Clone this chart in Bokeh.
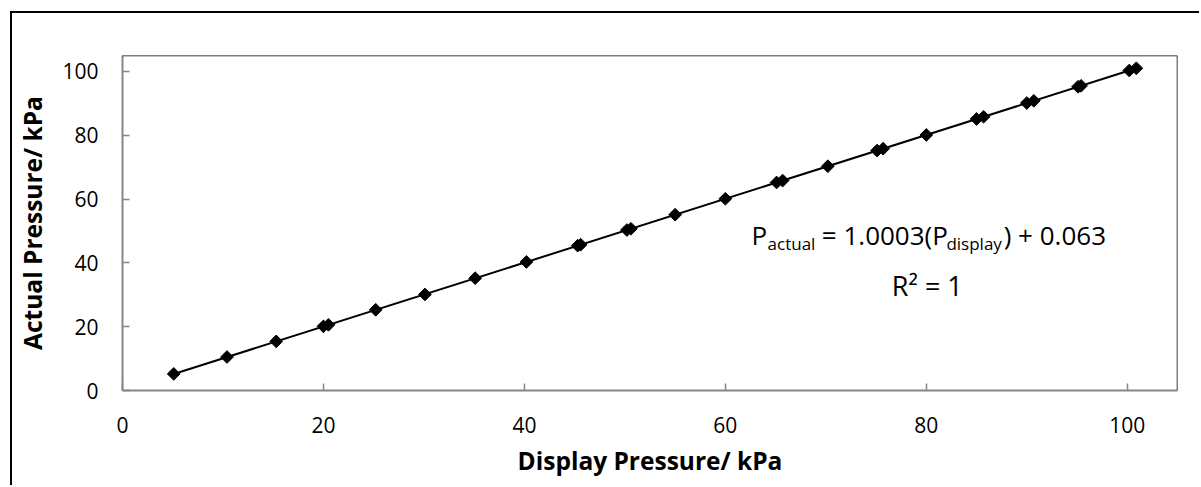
from math import pi

from bokeh.embed import file_html
from bokeh.models import FixedTicker, Label, Span
from bokeh.plotting import figure
from bokeh.resources import INLINE

# Calibration readings (kPa)
display_kpa = [5.1, 10.4, 15.3, 20.0, 20.5, 25.2, 30.1, 35.1, 40.2, 45.3, 45.6,
               50.2, 50.6, 55.0, 60.0, 65.1, 65.7, 70.2, 75.1, 75.7, 80.0, 85.0,
               85.7, 90.0, 90.7, 95.1, 95.4, 100.2, 100.9]
actual_kpa = [5.2, 10.5, 15.4, 20.1, 20.6, 25.3, 30.1, 35.2, 40.3, 45.4, 45.7,
              50.3, 50.7, 55.1, 60.1, 65.2, 65.8, 70.3, 75.2, 75.8, 80.1, 85.1,
              85.8, 90.1, 90.8, 95.2, 95.5, 100.3, 101.0]

# Linear fit reported on the chart
slope = 1.0003
intercept = 0.063

tick_values = [0, 20, 40, 60, 80, 100]
axis_max = 105

FONT = "Open Sans"
AXIS_GRAY = "#868686"

p = figure(
    width=1189, height=474,
    x_range=(0, axis_max), y_range=(0, axis_max),
    output_backend="svg", toolbar_location=None,
    min_border_left=110, min_border_right=24,
    min_border_top=42, min_border_bottom=97,
)
# Chart-area frame on the left and top, drawn as a shadow so it takes no room
p.styles = {
    "margin-left": "12px",
    "margin-top": "13px",
    "box-shadow": "-2px -2px 0 0 black",
}
p.outline_line_color = None
p.xgrid.visible = False
p.ygrid.visible = False

for ax in (p.xaxis[0], p.yaxis[0]):
    ax.ticker = FixedTicker(ticks=tick_values)
    ax.minor_tick_line_color = None
    ax.major_tick_in = 7
    ax.major_tick_out = 0
    ax.axis_line_color = AXIS_GRAY
    ax.axis_line_width = 2
    ax.major_tick_line_color = AXIS_GRAY
    ax.major_tick_line_width = 1.5
    ax.major_label_text_font = FONT
    ax.major_label_text_font_size = "21px"
    ax.major_label_text_color = "black"
    ax.axis_label_text_font = FONT
    ax.axis_label_text_font_size = "24.5px"
    ax.axis_label_text_font_style = "bold"
    ax.axis_label_text_color = "black"

p.xaxis.axis_label = "Display Pressure/ kPa"
p.yaxis.axis_label = "Actual Pressure/ kPa"
p.xaxis.major_label_standoff = 26
p.xaxis.axis_label_standoff = 8
p.yaxis.major_label_standoff = 24
p.yaxis.axis_label_standoff = 10

# Top and right edges of the plot area
p.add_layout(Span(location=axis_max, dimension="width", line_color="black", line_width=1.5))
p.add_layout(Span(location=axis_max, dimension="height", line_color="black", line_width=1.5))

# Trendline across the measured range
x_lo, x_hi = min(display_kpa), max(display_kpa)
p.line([x_lo, x_hi], [slope * x_lo + intercept, slope * x_hi + intercept],
       line_color="black", line_width=2)

p.scatter(display_kpa, actual_kpa, marker="square", angle=pi / 4, size=9,
          fill_color="black", line_color="black")

# Fit equation with subscripts
eq_y = 48.6
sub_y = 46.1
big = "26px"
small = "17px"
pieces = [
    (62.6, eq_y, "P", big),
    (64.2, sub_y, "actual", small),
    (69.6, eq_y, "= 1.0003(P", big),
    (82.0, sub_y, "display", small),
    (87.7, eq_y, ") + 0.063", big),
]
for x, y, t, fs in pieces:
    p.add_layout(Label(x=x, y=y, text=t, text_font=FONT, text_font_size=fs,
                       text_color="black", text_align="left",
                       text_baseline="alphabetic"))

p.add_layout(Label(x=80.1, y=32.9, text="R² = 1", text_font=FONT,
                   text_font_size="27px", text_color="black", text_align="center",
                   text_baseline="alphabetic"))

open("out.html", "w").write(file_html(p, INLINE))
